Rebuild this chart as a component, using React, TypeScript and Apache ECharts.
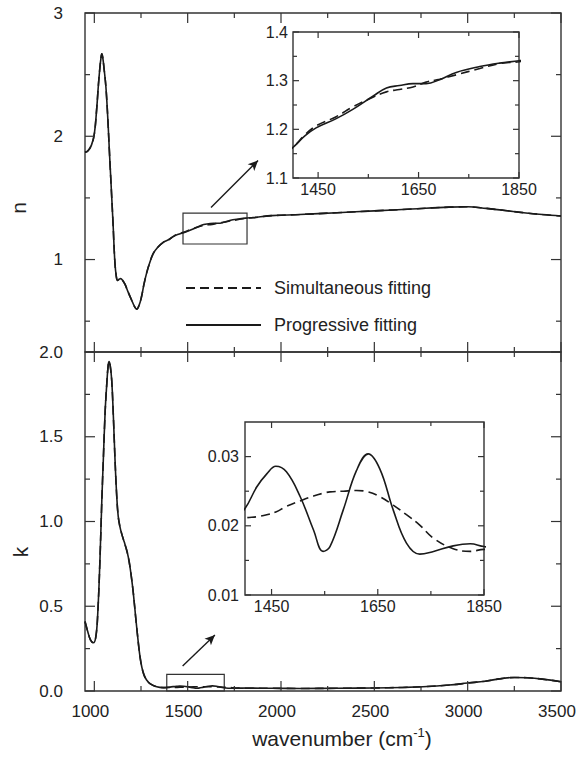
import React, { useEffect, useRef } from "react";
import * as echarts from "echarts";

// ---------- data ----------
const nWave = [950, 965, 985, 1000, 1012, 1022, 1030, 1036, 1040, 1045, 1052, 1062, 1072, 1080, 1090, 1100, 1110, 1118, 1125, 1133, 1141, 1150, 1164, 1180, 1200, 1215, 1227, 1240, 1253, 1266, 1280, 1298, 1316, 1340, 1369, 1400, 1423, 1446, 1486, 1519, 1559, 1586, 1612, 1639, 1665, 1692, 1725, 1772, 1811, 1850, 1950, 2100, 2300, 2500, 2700, 2900, 3000, 3100, 3200, 3300, 3400, 3500];
const nProgressive = [1.87, 1.88, 1.93, 2.02, 2.21, 2.42, 2.56, 2.64, 2.67, 2.64, 2.55, 2.4, 2.15, 1.9, 1.6, 1.3, 0.98, 0.86, 0.83, 0.84, 0.845, 0.835, 0.8, 0.74, 0.67, 0.62, 0.598, 0.63, 0.7, 0.8, 0.89, 0.98, 1.05, 1.1, 1.14, 1.163, 1.186, 1.203, 1.222, 1.241, 1.268, 1.285, 1.29, 1.294, 1.294, 1.302, 1.317, 1.329, 1.336, 1.341, 1.356, 1.365, 1.38, 1.395, 1.41, 1.425, 1.428, 1.415, 1.398, 1.38, 1.365, 1.353];
const nSimultaneous = [1.87, 1.88, 1.93, 2.02, 2.21, 2.42, 2.56, 2.64, 2.67, 2.64, 2.55, 2.4, 2.15, 1.9, 1.6, 1.3, 0.98, 0.86, 0.83, 0.84, 0.845, 0.835, 0.8, 0.74, 0.67, 0.62, 0.598, 0.63, 0.7, 0.8, 0.89, 0.98, 1.05, 1.1, 1.14, 1.163, 1.188, 1.207, 1.226, 1.246, 1.266, 1.277, 1.282, 1.287, 1.297, 1.303, 1.312, 1.325, 1.335, 1.339, 1.356, 1.365, 1.38, 1.395, 1.41, 1.425, 1.428, 1.415, 1.398, 1.38, 1.365, 1.353];

const kWave = [950, 965, 980, 995, 1008, 1018, 1030, 1040, 1048, 1058, 1066, 1074, 1079, 1085, 1093, 1102, 1111, 1120, 1128, 1137, 1146, 1160, 1173, 1182, 1191, 1200, 1209, 1222, 1236, 1245, 1254, 1266, 1280, 1300, 1334, 1370, 1400, 1422, 1441, 1458, 1478, 1504, 1529, 1547, 1560, 1585, 1610, 1632, 1654, 1679, 1704, 1729, 1755, 1792, 1824, 1850, 1950, 2100, 2300, 2500, 2650, 2760, 2900, 3000, 3094, 3180, 3250, 3320, 3400, 3500];
const kProgressive = [0.41, 0.35, 0.3, 0.285, 0.32, 0.45, 0.77, 1.12, 1.36, 1.65, 1.8, 1.92, 1.943, 1.92, 1.835, 1.62, 1.36, 1.15, 1.03, 0.97, 0.93, 0.88, 0.832, 0.79, 0.733, 0.66, 0.576, 0.43, 0.281, 0.2, 0.143, 0.095, 0.065, 0.042, 0.025, 0.02, 0.0225, 0.0256, 0.0275, 0.0286, 0.0278, 0.0242, 0.0194, 0.0163, 0.017, 0.0223, 0.028, 0.0304, 0.0282, 0.0223, 0.0175, 0.0159, 0.0163, 0.0171, 0.0174, 0.017, 0.016, 0.015, 0.016, 0.018, 0.021, 0.025, 0.035, 0.047, 0.058, 0.073, 0.08, 0.078, 0.07, 0.055];
const kSimultaneous = [0.41, 0.35, 0.3, 0.285, 0.32, 0.45, 0.77, 1.12, 1.36, 1.65, 1.8, 1.92, 1.943, 1.92, 1.835, 1.62, 1.36, 1.15, 1.03, 0.97, 0.93, 0.88, 0.832, 0.79, 0.733, 0.66, 0.576, 0.43, 0.281, 0.2, 0.143, 0.095, 0.065, 0.042, 0.025, 0.02, 0.0211, 0.0213, 0.0216, 0.022, 0.0228, 0.0236, 0.0243, 0.0247, 0.0249, 0.025, 0.0251, 0.0249, 0.0242, 0.023, 0.0216, 0.0201, 0.0182, 0.0167, 0.0163, 0.0166, 0.016, 0.015, 0.016, 0.018, 0.021, 0.025, 0.035, 0.047, 0.058, 0.073, 0.08, 0.078, 0.07, 0.055];

// tick labels
const mainXLabels = [1000, 1500, 2000, 2500, 3000, 3500];
const nYLabels = [1, 2, 3];
const kYLabels = [0, 0.5, 1, 1.5, 2];
const insetXLabels = [1450, 1650, 1850];
const nInsetYLabels = [1.1, 1.2, 1.3, 1.4];
const kInsetYLabels = [0.01, 0.02, 0.03];

// tick marks (major / minor)
const mainXMajor = [1000, 1500, 2000, 2500, 3000, 3500];
const mainXMinor = [1250, 1750, 2250, 2750, 3250];
const nYMajor = [1, 2, 3];
const nYMinor = [0.5, 1.5, 2.5];
const kYMajor = [0, 0.5, 1, 1.5, 2];
const kYMinor = [0.25, 0.75, 1.25, 1.75];
const insetXMajor = [1450, 1650, 1850];
const insetXMinor = [1550, 1750];
const nInsetYMajor = [1.1, 1.2, 1.3, 1.4];
const nInsetYMinor = [1.15, 1.25, 1.35];
const kInsetYMajor = [0.01, 0.02, 0.03];
const kInsetYMinor = [0.015, 0.025];

// zoom boxes & arrows (data coordinates)
const nBox = [[1475, 1.126], [1818, 1.377]];
const nArrow = [[1625, 1.423], [1877, 1.803]];
const kBox = [[1388, 0], [1696, 0.098]];
const kArrow = [[1473, 0.147], [1646, 0.33]];

const SIM = "Simultaneous fitting";
const PROG = "Progressive fitting";

const FONT = '"Liberation Sans", Arial, Helvetica, sans-serif';
const INK = "#1a1a1a";
const TXT = "#222";
const FRAME = "#333";

const GRIDS = [
  { left: 85, top: 13, width: 476, height: 339 },
  { left: 85, top: 352, width: 476, height: 339 },
  { left: 293, top: 32, width: 226, height: 146 },
  { left: 245, top: 422, width: 239, height: 173 },
];
const XR: [number, number][] = [[950, 3500], [950, 3500], [1400, 1850], [1400, 1850]];
const YR: [number, number][] = [[0.25, 3], [0, 2], [1.1, 1.4], [0.01, 0.035]];

const zip = (xs: number[], ys: number[]) => xs.map((x, i) => [x, ys[i]]);

// custom series that draws the inward tick marks through the axes' own scales
function tickSeries(g: number, xMaj: number[], xMin: number[], yMaj: number[], yMin: number[], L: number, l: number) {
  // kind: 0 x major, 1 x minor, 2 y major, 3 y minor
  const data: number[][] = [
    ...xMaj.map((v) => [v, 0]),
    ...xMin.map((v) => [v, 1]),
    ...yMaj.map((v) => [v, 2]),
    ...yMin.map((v) => [v, 3]),
  ];
  return {
    type: "custom",
    name: "ticks" + g,
    xAxisIndex: g,
    yAxisIndex: g,
    silent: true,
    clip: false,
    z: 5,
    encode: { x: -1, y: -1 },
    dimensions: ["v", "kind"],
    data,
    renderItem: (params: any, api: any) => {
      const v = api.value(0);
      const kind = api.value(1);
      const len = kind === 0 || kind === 2 ? L : l;
      const style = { stroke: FRAME, lineWidth: 1.2, fill: null };
      if (kind < 2) {
        const pb = api.coord([v, YR[g][0]]);
        const pt = api.coord([v, YR[g][1]]);
        return {
          type: "group",
          children: [
            { type: "line", shape: { x1: pb[0], y1: pb[1], x2: pb[0], y2: pb[1] - len }, style },
            { type: "line", shape: { x1: pt[0], y1: pt[1], x2: pt[0], y2: pt[1] + len }, style },
          ],
        };
      }
      const pl = api.coord([XR[g][0], v]);
      const pr = api.coord([XR[g][1], v]);
      return {
        type: "group",
        children: [
          { type: "line", shape: { x1: pl[0], y1: pl[1], x2: pl[0] + len, y2: pl[1] }, style },
          { type: "line", shape: { x1: pr[0], y1: pr[1], x2: pr[0] - len, y2: pr[1] }, style },
        ],
      };
    },
  };
}

export default function App() {
  const ref = useRef<HTMLDivElement>(null);
  useEffect(() => {
    if (!ref.current) return;
    const chart = echarts.init(ref.current, undefined, { renderer: "svg" });

    const mainLabel = { show: true, fontSize: 17, color: TXT, fontFamily: FONT, margin: 12 };
    const insetLabel = { show: true, fontSize: 16, color: TXT, fontFamily: FONT, margin: 4 };
    const str = (v: number) => String(v);

    const xAxis = (g: number, labels: number[] | null, lab: any) => ({
      type: "value",
      gridIndex: g,
      min: XR[g][0],
      max: XR[g][1],
      axisLine: { show: false, onZero: false },
      axisTick: { show: false },
      axisLabel: labels ? { ...lab, customValues: labels, formatter: str } : { show: false },
      splitLine: { show: false },
    });
    const yAxis = (g: number, labels: number[], lab: any, fmt: (v: number) => string) => ({
      type: "value",
      gridIndex: g,
      min: YR[g][0],
      max: YR[g][1],
      axisLine: { show: false, onZero: false },
      axisTick: { show: false },
      axisLabel: { ...lab, customValues: labels, formatter: fmt },
      splitLine: { show: false },
    });

    const dashed = { color: INK, width: 1.6, type: [9, 5] };
    const solid = { color: INK, width: 1.6, type: "solid" };
    const ser = (name: string, gi: number, data: number[][], ls: any, extra: any = {}) => ({
      type: "line",
      name,
      xAxisIndex: gi,
      yAxisIndex: gi,
      data,
      showSymbol: false,
      symbol: "none",
      smooth: 0.4,
      lineStyle: ls,
      itemStyle: { color: INK },
      emphasis: { disabled: true },
      silent: true,
      ...extra,
    });
    const annot = (box: number[][], arrow: number[][]) => ({
      markArea: {
        silent: true,
        itemStyle: { color: "rgba(0,0,0,0)", borderColor: FRAME, borderWidth: 1.2 },
        label: { show: false },
        data: [[{ xAxis: box[0][0], yAxis: box[0][1] }, { xAxis: box[1][0], yAxis: box[1][1] }]],
      },
      markLine: {
        silent: true,
        symbol: ["none", "arrow"],
        symbolSize: [7, 10],
        label: { show: false },
        lineStyle: { color: INK, width: 1.4, type: "solid" },
        data: [[{ coord: arrow[0] }, { coord: arrow[1] }]],
      },
    });

    chart.setOption({
      animation: false,
      textStyle: { fontFamily: FONT },
      grid: GRIDS.map((g) => ({ ...g, show: true, borderColor: FRAME, borderWidth: 1.4, backgroundColor: "rgba(0,0,0,0)" })),
      xAxis: [
        xAxis(0, null, mainLabel),
        xAxis(1, mainXLabels, { ...mainLabel, padding: [0, 8, 0, 0] }),
        xAxis(2, insetXLabels, { ...insetLabel, margin: 3 }),
        xAxis(3, insetXLabels, { ...insetLabel, margin: 3 }),
      ],
      yAxis: [
        yAxis(0, nYLabels, { ...mainLabel, margin: 22 }, str),
        yAxis(1, kYLabels, { ...mainLabel, margin: 22 }, (v) => v.toFixed(1)),
        yAxis(2, nInsetYLabels, { ...insetLabel, margin: 5 }, (v) => v.toFixed(1)),
        yAxis(3, kInsetYLabels, { ...insetLabel, margin: 6 }, (v) => v.toFixed(2)),
      ],
      legend: {
        orient: "vertical",
        left: 185,
        top: 278,
        padding: 0,
        itemWidth: 75,
        itemHeight: 20,
        itemGap: 17,
        selectedMode: false,
        itemStyle: { opacity: 0 },
        data: [SIM, PROG],
        textStyle: { fontSize: 18, color: TXT, fontFamily: FONT, lineHeight: 20, padding: [0, 0, 0, 8] },
      },
      graphic: [
        {
          type: "text",
          x: 18,
          y: 208,
          rotation: Math.PI / 2,
          style: { text: "n", fontSize: 21, fill: TXT, fontFamily: FONT, align: "center", verticalAlign: "middle" },
        },
        {
          type: "text",
          x: 20,
          y: 552,
          rotation: Math.PI / 2,
          style: { text: "k", fontSize: 21, fill: TXT, fontFamily: FONT, align: "center", verticalAlign: "middle" },
        },
        {
          type: "text",
          x: 342,
          y: 738,
          style: {
            text: "{a|wavenumber (cm}{s|-1}{a|)}",
            align: "center",
            verticalAlign: "middle",
            fill: TXT,
            rich: {
              a: { fontSize: 21, fontFamily: FONT, fill: TXT },
              s: { fontSize: 13, fontFamily: FONT, fill: TXT, padding: [0, 0, 12, 0] },
            },
          },
        },
      ],
      series: [
        ser(SIM, 0, zip(nWave, nSimultaneous), dashed),
        ser(PROG, 0, zip(nWave, nProgressive), solid, annot(nBox, nArrow)),
        ser(SIM, 1, zip(kWave, kSimultaneous), dashed),
        ser(PROG, 1, zip(kWave, kProgressive), solid, annot(kBox, kArrow)),
        ser(SIM, 2, zip(nWave, nSimultaneous), dashed),
        ser(PROG, 2, zip(nWave, nProgressive), solid),
        ser(SIM, 3, zip(kWave, kSimultaneous), dashed),
        ser(PROG, 3, zip(kWave, kProgressive), solid),
        tickSeries(0, mainXMajor, mainXMinor, nYMajor, nYMinor, 10, 5),
        tickSeries(1, mainXMajor, mainXMinor, kYMajor, kYMinor, 10, 5),
        tickSeries(2, insetXMajor, insetXMinor, nInsetYMajor, nInsetYMinor, 6, 4),
        tickSeries(3, insetXMajor, insetXMinor, kInsetYMajor, kInsetYMinor, 6, 4),
      ],
    });
    return () => chart.dispose();
  }, []);
  return <div ref={ref} style={{ position: "fixed", left: 0, top: 0, width: 579, height: 757, background: "#fff" }} />;
}
